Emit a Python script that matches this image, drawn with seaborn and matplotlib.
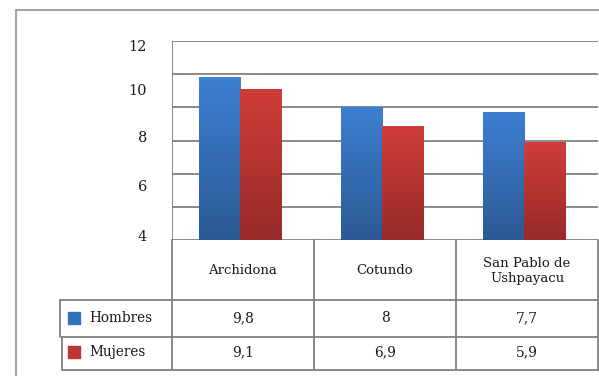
import numpy as np
import pandas as pd
import matplotlib
matplotlib.use("Agg")
import matplotlib.pyplot as plt
from matplotlib.lines import Line2D
from matplotlib.patches import Rectangle
from matplotlib.colors import LinearSegmentedColormap
import seaborn as sns

# data
categorias = ["Archidona", "Cotundo", "San Pablo de\nUshpayacu"]
hombres = [9.8, 8.0, 7.7]
mujeres = [9.1, 6.9, 5.9]
series = ["Hombres", "Mujeres"]
tick_labels = ["12", "10", "8", "6", "4"]
tick_pos = [11.70, 9.05, 6.27, 3.26, 0.30]   # where the labels sit in the original

df = pd.DataFrame({
    "Municipio": categorias * 2,
    "Sexo": ["Hombres"] * 3 + ["Mujeres"] * 3,
    "Valor": hombres + mujeres,
})

sns.set_style("white")
plt.rcParams["font.family"] = ["DejaVu Serif"]

W, H = 599, 376
fig = plt.figure(figsize=(W / 100, H / 100), dpi=100)

def fx(px):
    return px / W

def fy(py):
    return 1 - py / H

ax = fig.add_axes([fx(172), fy(240), fx(598) - fx(172), fy(41) - fy(240)])

pal = {"Hombres": "#3572BE", "Mujeres": "#BE3633"}
sns.barplot(data=df, x="Municipio", y="Valor", hue="Sexo", palette=pal,
            width=0.58, ax=ax, legend=False, saturation=1)

# gradient fill on the bars
grads = {
    "Hombres": LinearSegmentedColormap.from_list("h", ["#2C5A94", "#3D7FD2"]),
    "Mujeres": LinearSegmentedColormap.from_list("m", ["#982B29", "#D03D39"]),
}
grad = np.linspace(0, 1, 100).reshape(-1, 1)
for i, p in enumerate(ax.patches[:6]):
    name = series[i // 3]
    x0, y0 = p.get_x(), p.get_y()
    w, h = p.get_width(), p.get_height()
    im = ax.imshow(grad, cmap=grads[name], origin="lower", aspect="auto",
                   extent=[x0, x0 + w, y0, y0 + h], zorder=p.get_zorder())
    im.set_clip_path(p)
    p.set_edgecolor("none")

ax.set_xlim(-0.48, 2.52)
ax.set_ylim(0, 12)
ax.set_xlabel("")
ax.set_ylabel("")
ax.set_xticks([])
ax.set_yticks(tick_pos)
ax.set_yticklabels(tick_labels, fontsize=10.5, color="#1a1a1a")
ax.tick_params(axis="y", length=0, pad=18)
for v in range(0, 13, 2):
    ax.axhline(v, color="#808080", lw=1.3, zorder=0.5)
for s in ax.spines.values():
    s.set_visible(False)
ax.axvline(-0.48, color="#808080", lw=1.3)

gray = "#808080"

def hline(y, x0, x1, c=gray, lw=1.3):
    fig.add_artist(Line2D([fx(x0), fx(x1)], [fy(y), fy(y)], color=c, lw=lw))

def vline(x, y0, y1, c=gray, lw=1.3):
    fig.add_artist(Line2D([fx(x), fx(x)], [fy(y0), fy(y1)], color=c, lw=lw))

# outer frame
hline(10, 16, 599, c="#A6A6A6", lw=1.5)
vline(16, 10, 376, c="#A6A6A6", lw=1.5)

# data table
col_x = [172, 314, 456, 598]
for x in col_x:
    vline(x, 240, 370)
hline(300, 60, 598)
hline(337, 62, 598)
hline(370, 62, 598)
vline(60, 300, 337)
vline(62, 337, 370)

txt = "#1a1a1a"
for i, c in enumerate(categorias):
    cx = (col_x[i] + col_x[i + 1]) / 2
    fig.text(fx(cx), fy(271), c, ha="center", va="center", fontsize=9.5,
             linespacing=1.15, color=txt)
    fig.text(fx(cx), fy(318), f"{hombres[i]:g}".replace(".", ","),
             ha="center", va="center", fontsize=10, color=txt)
    fig.text(fx(cx), fy(352), f"{mujeres[i]:g}".replace(".", ","),
             ha="center", va="center", fontsize=10, color=txt)

for name, yy in zip(series, [318, 352]):
    fig.add_artist(Rectangle((fx(68), fy(yy + 6)), fx(12), fy(0) - fy(12),
                             transform=fig.transFigure, color=pal[name]))
    fig.text(fx(89), fy(yy), name, ha="left", va="center", fontsize=9.8,
             color=txt)

fig.savefig("out.png", dpi=100)
